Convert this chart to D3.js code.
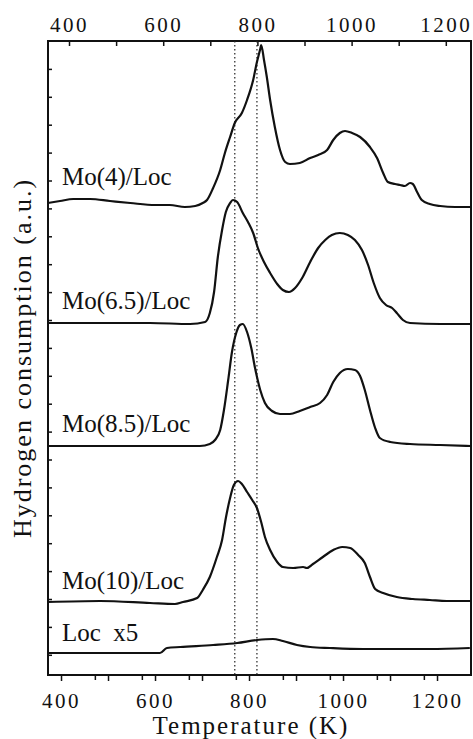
<!DOCTYPE html>
<html>
<head>
<meta charset="utf-8">
<script src="https://cdn.jsdelivr.net/npm/d3@7"></script>
<style>
  html, body { margin: 0; padding: 0; background: #fff; }
  svg { display: block; }
  text { font-family: 'Liberation Serif', 'Times New Roman', serif; fill: #111; }
</style>
</head>
<body>
<div id="chart"></div>
<script>
// TPR profiles, temperature (K) vs hydrogen consumption (a.u.), each curve sits on its own offset
const mo4 = [[355,47.2],[381,47.4],[409,47.6],[445,47.6],[487,47.4],[530,47.2],[583,47.0],[614,47.0],[646,46.8],[668,46.9],[684,47.2],[693,47.5],[706,48.7],[721,50.5],[731,52.2],[742,53.8],[752,55.2],[767,56.2],[778,57.5],[791,59.5],[799,61.3],[806,62.6],[808,63.0],[814,61.5],[820,59.8],[827,57.5],[837,54.8],[848,52.5],[859,51.3],[869,51.1],[890,51.2],[912,51.7],[929,52.0],[948,52.5],[961,53.5],[975,54.2],[986,54.4],[1001,54.2],[1018,53.8],[1039,52.8],[1054,51.7],[1067,50.2],[1077,49.3],[1092,49.1],[1103,49.0],[1113,48.9],[1124,49.2],[1130,49.1],[1139,48.3],[1149,47.5],[1166,47.1],[1188,46.9],[1220,46.8],[1253,46.8]];
const mo65 = [[355,35.2],[466,35.2],[572,35.2],[657,35.1],[689,35.3],[699,36.2],[708,38.3],[716,41.8],[725,44.5],[733,46.3],[742,47.2],[748,47.5],[757,47.3],[769,46.2],[780,45.3],[791,44.2],[801,42.7],[814,41.3],[827,40.2],[842,39.1],[854,38.5],[867,38.3],[880,38.7],[895,39.7],[912,41.3],[929,42.7],[944,43.5],[958,44.0],[975,44.2],[992,44.0],[1007,43.5],[1022,42.5],[1035,41.0],[1047,39.2],[1060,37.7],[1073,37.0],[1086,36.7],[1096,36.2],[1109,35.5],[1124,35.2],[1188,35.1],[1253,35.1]];
const mo85 = [[355,22.9],[466,22.9],[572,22.9],[678,22.9],[699,23.1],[710,23.5],[721,24.5],[729,26.5],[738,29.5],[746,32.3],[755,34.2],[763,35.0],[769,35.1],[778,34.3],[787,32.7],[795,30.7],[806,28.5],[816,27.2],[831,26.4],[848,26.1],[869,26.1],[890,26.4],[912,26.8],[933,27.2],[948,28.0],[961,29.3],[975,30.2],[992,30.6],[1007,30.5],[1018,29.9],[1028,28.5],[1039,26.5],[1050,24.7],[1060,23.7],[1082,23.3],[1124,23.1],[1188,23.0],[1253,22.9]];
const mo10 = [[355,7.3],[466,7.4],[572,7.2],[625,7.1],[642,7.3],[672,7.7],[684,8.5],[699,9.8],[714,11.8],[725,13.5],[733,15.7],[742,17.7],[750,19.0],[759,19.4],[767,19.1],[778,18.3],[789,17.5],[799,16.7],[808,15.3],[816,13.8],[827,12.5],[842,11.3],[854,10.8],[876,10.7],[897,10.8],[905,10.7],[918,11.1],[939,11.8],[961,12.5],[980,12.8],[997,12.7],[1014,12.0],[1028,11.2],[1039,9.8],[1050,8.6],[1067,8.2],[1096,7.8],[1130,7.6],[1166,7.5],[1202,7.4],[1253,7.4]];
const loc = [[355,2.2],[593,2.2],[608,2.7],[636,2.8],[706,3.0],[757,3.2],[799,3.5],[833,3.6],[854,3.4],[884,3.0],[912,2.8],[954,2.7],[1024,2.6],[1166,2.6],[1251,2.7]];

const seriesNames = ['Mo(4)/Loc', 'Mo(6.5)/Loc', 'Mo(8.5)/Loc', 'Mo(10)/Loc', 'Loc  x5'];
const labelAt = [[385,49.0],[385,36.6],[385,24.3],[385,8.6],[385,3.4]];
const peakLines = [752, 799];
const labelledTicks = [400, 600, 800, 1000, 1200];
const topTicks = d3.range(400, 1201, 100);
const bottomTicks = d3.range(400, 1201, 100);
const bottomExtraTicks = d3.range(472, 1173, 100);
const yTicks = d3.range(1, 23).map(k => 63.4 - k * 2.79);

const series = [mo4, mo65, mo85, mo10, loc];

const width = 473;
const height = 739;
const margin = {top: 41, right: 2, bottom: 64, left: 48};

const svg = d3.select('#chart').append('svg')
  .attr('width', width)
  .attr('height', height);

const xTop = d3.scaleLinear().domain([355.4, 1253.5]).range([margin.left, width - margin.right]);
const xBottom = d3.scaleLinear().domain([372.3, 1272.3]).range([margin.left, width - margin.right]);
const y = d3.scaleLinear().domain([0, 63.4]).range([height - margin.bottom, margin.top]);

const fmt = d => labelledTicks.includes(d) ? d : '';

// top axis, ticks point inward
svg.append('g')
  .attr('transform', `translate(0,${margin.top})`)
  .call(d3.axisTop(xTop).tickValues(topTicks).tickSize(-5).tickPadding(9).tickFormat(fmt))
  .call(g => g.select('.domain').remove());

// bottom axis, two overlapping tick sets as in the scan
svg.append('g')
  .attr('transform', `translate(0,${height - margin.bottom})`)
  .call(d3.axisBottom(xBottom).tickValues(bottomTicks).tickSize(6).tickPadding(12).tickFormat(fmt))
  .call(g => g.select('.domain').remove());

svg.append('g')
  .attr('transform', `translate(0,${height - margin.bottom})`)
  .call(d3.axisBottom(xBottom).tickValues(bottomExtraTicks).tickSize(5).tickFormat(''))
  .call(g => g.select('.domain').remove());

svg.append('g')
  .attr('transform', `translate(${margin.left},0)`)
  .call(d3.axisLeft(y).tickValues(yTicks).tickSize(-4).tickFormat(''))
  .call(g => g.select('.domain').remove());

svg.selectAll('.tick line')
  .attr('stroke', '#111')
  .attr('stroke-width', 1.5);

svg.selectAll('.tick text')
  .attr('fill', '#111')
  .style('font-family', "'Liberation Serif', serif")
  .style('font-size', '21px')
  .style('letter-spacing', '2.5px');

svg.append('rect')
  .attr('x', margin.left)
  .attr('y', margin.top)
  .attr('width', width - margin.left - margin.right)
  .attr('height', height - margin.top - margin.bottom)
  .attr('fill', 'none')
  .attr('stroke', '#111')
  .attr('stroke-width', 2);

svg.selectAll('.peak')
  .data(peakLines)
  .enter().append('line')
  .attr('class', 'peak')
  .attr('x1', d => xTop(d))
  .attr('x2', d => xTop(d))
  .attr('y1', y(63.4))
  .attr('y2', y(0))
  .attr('stroke', '#222')
  .attr('stroke-width', 1.2)
  .attr('stroke-dasharray', '1.5,2.5');

const line = d3.line()
  .x(d => xTop(d[0]))
  .y(d => y(d[1]))
  .curve(d3.curveMonotoneX);

svg.selectAll('.curve')
  .data(series)
  .enter().append('path')
  .attr('class', 'curve')
  .attr('d', line)
  .attr('fill', 'none')
  .attr('stroke', '#111')
  .attr('stroke-width', 2.2)
  .attr('stroke-linejoin', 'round');

svg.selectAll('.name')
  .data(seriesNames)
  .enter().append('text')
  .attr('class', 'name')
  .attr('x', (d, i) => xTop(labelAt[i][0]))
  .attr('y', (d, i) => y(labelAt[i][1]))
  .style('font-size', '25px')
  .style('white-space', 'pre')
  .text(d => d);

svg.append('text')
  .attr('x', 251)
  .attr('y', 734)
  .attr('text-anchor', 'middle')
  .style('font-size', '25px')
  .style('letter-spacing', '2px')
  .text('Temperature (K)');

svg.append('text')
  .attr('transform', `translate(31,${(margin.top + height - margin.bottom) / 2}) rotate(-90)`)
  .attr('text-anchor', 'middle')
  .style('font-size', '26px')
  .style('letter-spacing', '2px')
  .text('Hydrogen consumption (a.u.)');
</script>
</body>
</html>
